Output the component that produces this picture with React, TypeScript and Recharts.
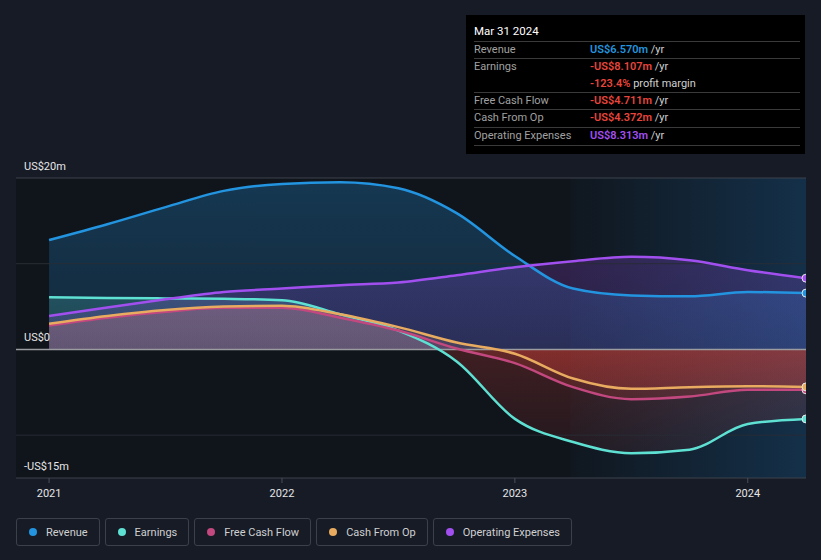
import React from 'react';
import { ComposedChart, Area, Line, XAxis, YAxis, ReferenceLine, ReferenceArea } from 'recharts';

const quarters = [2021.0, 2021.25, 2021.5, 2021.75, 2022.0, 2022.25, 2022.5, 2022.75, 2023.0, 2023.25, 2023.5, 2023.75, 2024.0, 2024.25];
const revenue = [12.75, 14.6, 16.6, 18.5, 19.3, 19.5, 18.8, 15.9, 10.9, 7.1, 6.3, 6.2, 6.7, 6.57];
const earnings = [6.08, 6.0, 5.95, 5.9, 5.75, 4.1, 2.2, -1.4, -8.1, -10.8, -12.1, -11.7, -8.7, -8.107];
const freeCashFlow = [2.8, 3.7, 4.4, 4.85, 4.85, 3.7, 2.2, 0.1, -1.6, -4.4, -5.8, -5.5, -4.7, -4.711];
const cashFromOp = [3.0, 3.9, 4.6, 5.0, 5.1, 4.1, 2.6, 0.8, -0.5, -3.4, -4.6, -4.4, -4.3, -4.372];
const opex = [3.9, 4.9, 5.85, 6.7, 7.1, 7.5, 7.8, 8.65, 9.6, 10.3, 10.8, 10.4, 9.25, 8.313];

const yearTicks = [2021, 2022, 2023, 2024];
const yLabelTicks = [20, 0, -15];
const gridValues = [20, 10, -10];
const xDomain = [2020.858, 2024.25];
const yDomain = [-15, 20];
const highlightStart = 2023.24;
const tooltipTitle = 'Mar 31 2024';

const data = quarters.map((q, i) => ({
  q,
  revenue: revenue[i],
  earnings: earnings[i],
  fcf: freeCashFlow[i],
  cfo: cashFromOp[i],
  opex: opex[i],
}));

const C = {
  revenue: '#2394df',
  earnings: '#5ee0d2',
  fcf: '#c2487f',
  cfo: '#e8ab5f',
  opex: '#a24ff0',
  red: '#e8453c',
};

const series = [
  { key: 'revenue', name: 'Revenue', color: C.revenue },
  { key: 'earnings', name: 'Earnings', color: C.earnings },
  { key: 'fcf', name: 'Free Cash Flow', color: C.fcf },
  { key: 'cfo', name: 'Cash From Op', color: C.cfo },
  { key: 'opex', name: 'Operating Expenses', color: C.opex },
];

const fmt = (v: number) => (v < 0 ? '-' : '') + 'US$' + Math.abs(v).toFixed(3) + 'm';
const yFmt = (v: number) => (v === 0 ? 'US$0' : (v < 0 ? '-' : '') + 'US$' + Math.abs(v) + 'm');
const last = quarters.length - 1;

const W = 821;
const H = 560;
const PLOT_TOP = 178;
const PLOT_BOTTOM = 478;
const zeroOffset = (yDomain[1] - 0) / (yDomain[1] - yDomain[0]);

const XTick = (props: any) => {
  const { x, y, payload } = props;
  return (
    <g>
      <line x1={x} x2={x} y1={PLOT_BOTTOM} y2={PLOT_BOTTOM + 5} stroke="#4a4f5a" />
      <text x={x} y={y + 8} fill="#e6e6e6" fontSize={11} textAnchor="middle" dominantBaseline="middle" fontFamily="Roboto">
        {payload.value}
      </text>
    </g>
  );
};

const yLabel = (v: number) => (props: any) => {
  const vb = props.viewBox || {};
  return (
    <text x={(vb.x || 0) + 8} y={(vb.y || 0) - 11} fill="#e6e6e6" fontSize={11} dominantBaseline="middle" fontFamily="Roboto">
      {yFmt(v)}
    </text>
  );
};

const endDot = (color: string) => (props: any) => {
  const { cx, cy, index } = props;
  if (index !== last) return <g key={'d' + index} />;
  return <circle key={'d' + index} cx={cx} cy={cy} r={4} fill={color} stroke="#e8e8e8" strokeWidth={1} />;
};

const Row = ({ top, label, children }: any) => (
  <div style={{ position: 'absolute', left: 8, top, height: 17, lineHeight: '17px', width: 330, whiteSpace: 'nowrap' }}>
    <span style={{ position: 'absolute', left: 0, color: '#a0a0a0' }}>{label}</span>
    <span style={{ position: 'absolute', left: 116 }}>{children}</span>
  </div>
);

const Sep = ({ top }: any) => (
  <div style={{ position: 'absolute', left: 8, top, width: 326, height: 1, background: '#3a3a3a' }} />
);

const Val = ({ v, color }: any) => (
  <>
    <span style={{ color, fontWeight: 600 }}>{fmt(v)}</span>
    <span style={{ color: '#d0d0d0' }}> /yr</span>
  </>
);

export default function App() {
  const rev = revenue[last];
  const earn = earnings[last];
  const margin = (earn / rev) * 100;
  return (
    <div style={{ position: 'fixed', left: 0, top: 0, width: W, height: H, background: '#161b26', fontFamily: 'Roboto', overflow: 'hidden' }}>
      <ComposedChart width={W} height={H} data={data} margin={{ top: PLOT_TOP, right: 15, bottom: 52, left: 16 }}>
        <defs>
          {series.map((s) => (
            <linearGradient key={s.key} id={'g-' + s.key} gradientUnits="userSpaceOnUse" x1="0" y1={PLOT_TOP} x2="0" y2={PLOT_BOTTOM}>
              <stop offset="0" stopColor={s.color} stopOpacity={0.28} />
              <stop offset={zeroOffset} stopColor={s.color} stopOpacity={0.16} />
              <stop offset={zeroOffset} stopColor={C.red} stopOpacity={0.22} />
              <stop offset="1" stopColor={C.red} stopOpacity={0.05} />
            </linearGradient>
          ))}
          <linearGradient id="hl" x1="0" y1="0" x2="1" y2="0">
            <stop offset="0" stopColor="#10171f" />
            <stop offset="1" stopColor="#143049" />
          </linearGradient>
        </defs>
        <XAxis
          dataKey="q"
          type="number"
          domain={xDomain}
          ticks={yearTicks}
          allowDataOverflow
          height={30}
          tick={<XTick />}
          tickLine={false}
          axisLine={{ stroke: '#3d424c' }}
        />
        <YAxis type="number" domain={yDomain} width={0} hide allowDataOverflow />
        <ReferenceArea x1={xDomain[0]} x2={highlightStart} y1={yDomain[0]} y2={yDomain[1]} fill="#10141b" fillOpacity={1} stroke="none" ifOverflow="hidden" />
        <ReferenceArea x1={highlightStart} x2={xDomain[1]} y1={yDomain[0]} y2={yDomain[1]} fill="url(#hl)" fillOpacity={1} stroke="none" ifOverflow="hidden" />
        {gridValues.map((g) => (
          <ReferenceLine key={g} y={g} stroke={g === 20 ? '#3d424c' : '#272c36'} strokeWidth={1} />
        ))}
        {series.map((s) => (
          <Area
            key={'a-' + s.key}
            dataKey={s.key}
            type="monotone"
            stroke="none"
            fill={'url(#g-' + s.key + ')'}
            fillOpacity={1}
            baseValue={0}
            isAnimationActive={false}
            dot={false}
            activeDot={false}
          />
        ))}
        <ReferenceLine y={0} stroke="#9a9ca0" strokeWidth={1.5} />
        {yLabelTicks.map((v) => (
          <ReferenceLine key={'yl' + v} y={v} stroke="none" strokeOpacity={0} label={yLabel(v)} />
        ))}
        {series.map((s) => (
          <Line
            key={'l-' + s.key}
            dataKey={s.key}
            type="monotone"
            stroke={s.color}
            strokeWidth={2.5}
            dot={endDot(s.color)}
            activeDot={false}
            isAnimationActive={false}
          />
        ))}
      </ComposedChart>

      <div style={{ position: 'absolute', left: 466, top: 15, width: 339, height: 139, background: '#000', fontSize: 11, color: '#fff' }}>
        <div style={{ position: 'absolute', left: 8, top: 8, lineHeight: '17px', fontSize: 11.5, color: '#fff' }}>{tooltipTitle}</div>
        <Sep top={26} />
        <Row top={26} label="Revenue"><Val v={rev} color={C.revenue} /></Row>
        <Sep top={43} />
        <Row top={43} label="Earnings"><Val v={earn} color={C.red} /></Row>
        <Row top={60} label="">
          <span style={{ color: C.red, fontWeight: 600 }}>{margin.toFixed(1)}%</span>
          <span style={{ color: '#d0d0d0' }}> profit margin</span>
        </Row>
        <Sep top={77} />
        <Row top={77} label="Free Cash Flow"><Val v={freeCashFlow[last]} color={C.red} /></Row>
        <Sep top={94} />
        <Row top={94} label="Cash From Op"><Val v={cashFromOp[last]} color={C.red} /></Row>
        <Sep top={112} />
        <Row top={112} label="Operating Expenses"><Val v={opex[last]} color={C.opex} /></Row>
        <Sep top={130} />
      </div>

      <div style={{ position: 'absolute', left: 16, top: 518, display: 'flex', gap: 5 }}>
        {series.map((s) => (
          <div
            key={s.key}
            style={{
              height: 28,
              border: '1px solid #3b404b',
              borderRadius: 3,
              display: 'flex',
              alignItems: 'center',
              padding: '0 11px 0 12px',
              fontSize: 11,
              color: '#d0d0d0',
              boxSizing: 'border-box',
            }}
          >
            <span style={{ width: 8, height: 8, borderRadius: 4, background: s.color, display: 'inline-block', marginRight: 9 }} />
            {s.name}
          </div>
        ))}
      </div>
    </div>
  );
}
